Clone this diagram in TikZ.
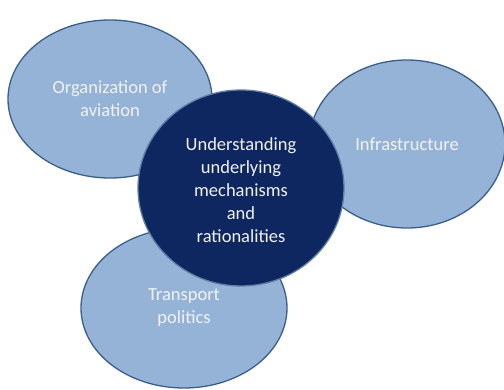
\documentclass[tikz,border=0pt]{standalone}
\usepackage{fontspec}
\setmainfont{Carlito}
\usetikzlibrary{shapes.geometric}
\definecolor{lightfill}{HTML}{95B3D7}
\definecolor{edgeblue}{HTML}{3A5E8C}
\definecolor{darkfill}{HTML}{0E2760}
\definecolor{txt}{HTML}{F2F2F2}
\tikzset{
  topic/.style={ellipse, fill=lightfill, draw=edgeblue, line width=1.3pt, inner sep=0pt},
  core/.style={ellipse, fill=darkfill, draw=edgeblue!80!white, line width=1.3pt, inner sep=0pt},
  lbl/.style={text=txt, align=center, font=\fontsize{18.5}{23}\selectfont}
}
\begin{document}
\begin{tikzpicture}[x=1pt,y=-1pt]
\useasboundingbox (0,0) rectangle (504,390);
\node[topic, minimum width=204pt, minimum height=158pt] (org) at (110,99) {};
\node[topic, minimum width=196pt, minimum height=168pt] (inf) at (407,144) {};
\node[topic, minimum width=206pt, minimum height=160pt] (tra) at (184,308) {};
\node[core, minimum width=206pt, minimum height=196pt] (und) at (241,188) {};
\node[lbl] at (org) {Organization of\\aviation};
\node[lbl] at (inf) {Infrastructure};
\node[lbl] at (tra) {Transport\\politics};
\node[lbl] at ([yshift=-2pt]und.center) {Understanding\\underlying\\mechanisms\\and\\rationalities};
\end{tikzpicture}
\end{document}
